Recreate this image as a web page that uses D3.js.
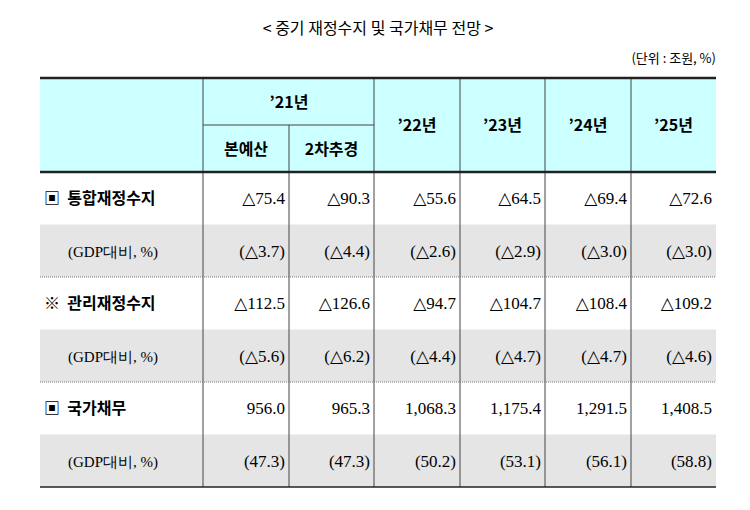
<!DOCTYPE html><html><head><meta charset="utf-8"><script src="https://cdn.jsdelivr.net/npm/d3@7"></script>
<style>body{margin:0;background:#fff}</style></head><body><svg id="c" width="750" height="510"></svg>
<script>
const title="< 중기 재정수지 및 국가채무 전망 >";
const unit="(단위 : 조원, %)";
const columns=["본예산","2차추경","’22년","’23년","’24년","’25년"];
const groupLabel="’21년";
const rowLabels=["▣  통합재정수지","(GDP대비, %)","※  관리재정수지","(GDP대비, %)","▣  국가채무","(GDP대비, %)"];
const row1=["△75.4","△90.3","△55.6","△64.5","△69.4","△72.6"];
const row2=["(△3.7)","(△4.4)","(△2.6)","(△2.9)","(△3.0)","(△3.0)"];
const row3=["△112.5","△126.6","△94.7","△104.7","△108.4","△109.2"];
const row4=["(△5.6)","(△6.2)","(△4.4)","(△4.7)","(△4.7)","(△4.6)"];
const row5=["956.0","965.3","1,068.3","1,175.4","1,291.5","1,408.5"];
const row6=["(47.3)","(47.3)","(50.2)","(53.1)","(56.1)","(58.8)"];
const rows=[row1,row2,row3,row4,row5,row6];

const svg=d3.select("#c");
const L=40,R=716,tTop=78,hdrMid=125,hdrBot=172,bot=487;
const colEdges=[203,289,374,460,545,631,716];
const y=d3.scaleBand().domain(d3.range(6)).range([hdrBot,bot]);
const kr="'Noto Sans CJK KR',sans-serif", serif="'Liberation Serif','DejaVu Serif',serif";
svg.append("text").attr("x",378).attr("y",34).attr("text-anchor","middle").attr("font-family",kr).attr("font-size",16).text(title);
svg.append("text").attr("x",716).attr("y",63).attr("text-anchor","end").attr("font-family",kr).attr("font-size",13).text(unit);
svg.append("rect").attr("x",L).attr("y",tTop).attr("width",R-L).attr("height",hdrBot-tTop).attr("fill","#ccffff");
rows.forEach((r,i)=>{ if(i%2) svg.append("rect").attr("x",L).attr("y",y(i)).attr("width",R-L).attr("height",y.bandwidth()).attr("fill","#e5e5e5");});
colEdges.slice(0,6).forEach((x,i)=>{
  svg.append("line").attr("x1",x).attr("x2",x).attr("y1",(i==1)?hdrMid:tTop).attr("y2",bot).attr("stroke","#444").attr("stroke-width",1);
});
svg.append("line").attr("x1",203).attr("x2",374).attr("y1",hdrMid).attr("y2",hdrMid).attr("stroke","#444");
[tTop,hdrBot].forEach(v=>svg.append("line").attr("x1",L).attr("x2",R).attr("y1",v).attr("y2",v).attr("stroke","#222").attr("stroke-width",2.5));
svg.append("line").attr("x1",L).attr("x2",R).attr("y1",bot).attr("y2",bot).attr("stroke","#222").attr("stroke-width",1.5);
[2,4].forEach(i=>svg.append("line").attr("x1",L).attr("x2",R).attr("y1",y(i)).attr("y2",y(i)).attr("stroke","#777").attr("stroke-dasharray","1,1"));
svg.append("text").attr("x",289).attr("y",(tTop+hdrMid)/2+6).attr("text-anchor","middle").attr("font-family",kr).attr("font-weight","bold").attr("font-size",16).text(groupLabel);
columns.forEach((c,i)=>{
  const cx=(colEdges[i]+colEdges[i+1])/2, cy=i<2?(hdrMid+hdrBot)/2+6:(tTop+hdrBot)/2+6;
  svg.append("text").attr("x",cx).attr("y",cy).attr("text-anchor","middle").attr("font-family",kr).attr("font-weight","bold").attr("font-size",16).text(c);
});
rowLabels.forEach((t,i)=>{
  const bold=i%2==0;
  svg.append("text").attr("x",bold?44:68).attr("y",y(i)+y.bandwidth()/2+6).attr("font-family",bold?kr:serif).attr("font-weight",bold?"bold":"normal").attr("font-size",bold?16:15).style("white-space","pre").text(t);
});
rows.forEach((r,i)=>r.forEach((v,j)=>{
  svg.append("text").attr("x",colEdges[j+1]-4).attr("y",y(i)+y.bandwidth()/2+6).attr("text-anchor","end").attr("font-family",serif).attr("font-size",17).text(v);
}));
</script></body></html>
